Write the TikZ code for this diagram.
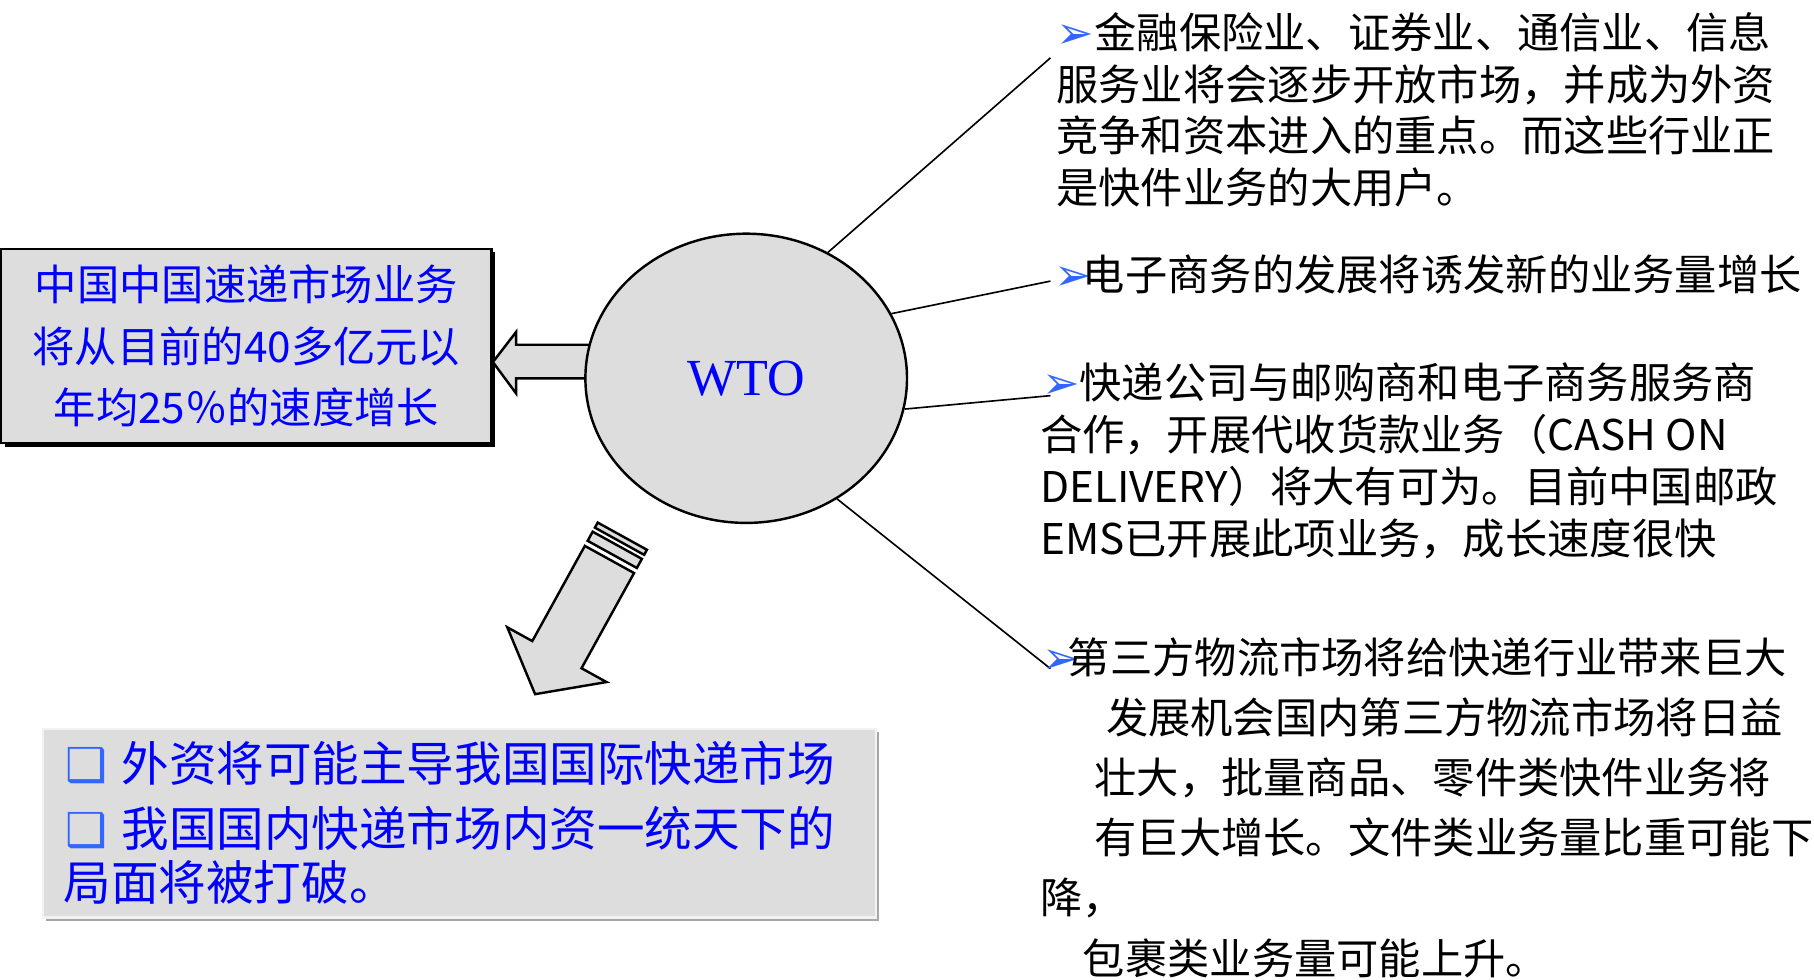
\documentclass[tikz,border=0pt]{standalone}
\usepackage{fontspec}
\setmainfont{Noto Sans CJK SC}
\newfontfamily\wtofont{Liberation Serif}
\newfontfamily\symfont{DejaVu Sans}
\usetikzlibrary{shapes.geometric,shadows}
\definecolor{boxgray}{HTML}{DDDDDD}
\definecolor{txtblue}{HTML}{0000FF}
\definecolor{bulletblue}{HTML}{3366FF}
\newcommand{\arrowbullet}{{\symfont\fontsize{11}{11}\selectfont\textcolor{bulletblue}{➢}}}
\newcommand{\boxbullet}{{\symfont\fontsize{11.5}{11.5}\selectfont\textcolor{bulletblue}{❑}}}

\begin{document}
\begin{tikzpicture}[line width=0.6pt,
        grayfill/.style={fill=boxgray,draw=black},
        rtext/.style={anchor=base west,inner sep=0pt,align=left,font=\fontsize{10.4}{12.7}\selectfont},
        conn/.style={line width=0.4pt}]
        \useasboundingbox (0,0) rectangle (15.68,-8.47);
        % market forecast box and arrow from the ellipse
        \node[grayfill,drop shadow={opacity=1,fill=black,shadow xshift=0.03cm,shadow yshift=-0.03cm},
            minimum width=4.24cm,minimum height=1.68cm,inner sep=0pt,align=center,text=txtblue,
            font=\fontsize{10.4}{15.1}\selectfont] (lbox) at (2.13,-2.99)
            {中国中国速递市场业务\\将从目前的40多亿元以\\年均25％的速度增长};
        \draw[grayfill,shift={(lbox.east)}] (0,-0.14) -- (0.20,0.12) -- (0.20,0.01) -- (0.95,0.01)
            -- (0.95,-0.28) -- (0.20,-0.28) -- (0.20,-0.41) -- cycle;
        \node[ellipse,grayfill,minimum width=2.78cm,minimum height=2.50cm,inner sep=0pt,text=txtblue,
            font=\wtofont\fontsize{12.8}{12.8}\selectfont] (wto) at (6.45,-3.27) {WTO};
        % connectors to the four points
        \coordinate (c1) at (9.08,-0.50);
        \coordinate (c2) at (9.08,-2.43);
        \coordinate (c3) at (9.08,-3.42);
        \coordinate (c4) at (9.08,-5.78);
        \draw[conn] (wto.57) -- (c1);
        \draw[conn] (wto.24) -- (c2);
        \draw[conn] (wto.-11) -- (c3);
        \draw[conn] (wto.-53) -- (c4);
        % base anchor of a multi-line node sits on its last line
        \node[rtext] (p1) at (9.12,-1.76) {\makebox[0.33cm][l]{\arrowbullet}金融保险业、证券业、通信业、信息\\服务业将会逐步开放市场，并成为外资\\竞争和资本进入的重点。而这些行业正\\是快件业务的大用户。};
        \node[rtext] (p2) at (9.10,-2.51) {\makebox[0.25cm][l]{\arrowbullet}电子商务的发展将诱发新的业务量增长};
        \node[rtext,font=\fontsize{10.4}{12.8}\selectfont] (p3) at (8.98,-4.79) {\hspace*{0.02cm}\makebox[0.32cm][l]{\arrowbullet}快递公司与邮购商和电子商务服务商\\合作，开展代收货款业务（CASH ON\\DELIVERY）将大有可为。目前中国邮政\\EMS已开展此项业务，成长速度很快};
        \node[rtext,font=\fontsize{10.4}{14.8}\selectfont] (p4) at (8.98,-8.42) {\hspace*{0.02cm}\makebox[0.22cm][l]{\arrowbullet}第三方物流市场将给快递行业带来巨大\\\hspace*{0.57cm}发展机会国内第三方物流市场将日益\\\hspace*{0.47cm}壮大，批量商品、零件类快件业务将\\\hspace*{0.47cm}有巨大增长。文件类业务量比重可能下\\降，\\\hspace*{0.37cm}包裹类业务量可能上升。};
        % big arrow down to the outcome box
        \begin{scope}[shift={(5.268,-4.836)},rotate=241.1]
            \draw[grayfill] (0,0.243) -- (0.94,0.243) -- (0.94,0.49) -- (1.33,0) -- (0.94,-0.49)
                -- (0.94,-0.243) -- (0,-0.243) -- cycle;
            \draw[grayfill] (-0.14,0.243) rectangle (-0.05,-0.243);
            \draw[grayfill] (-0.23,0.243) rectangle (-0.18,-0.243);
        \end{scope}
        \node[fill=boxgray,draw=gray!10,drop shadow={opacity=1,fill=gray!70,shadow xshift=0.03cm,shadow yshift=-0.03cm},
            minimum width=7.20cm,minimum height=1.63cm,text width=6.84cm,inner xsep=0.18cm,inner ysep=0pt,
            align=left,text=txtblue,font=\fontsize{11.7}{13.4}\selectfont] (bbox) at (3.97,-7.115)
            {\hspace*{0.02cm}\makebox[0.48cm][l]{\boxbullet}外资将可能主导我国国际快递市场\\[2.5pt]\hspace*{0.02cm}\makebox[0.48cm][l]{\boxbullet}我国国内快递市场内资一统天下的\\局面将被打破。};
\end{tikzpicture}
\end{document}
